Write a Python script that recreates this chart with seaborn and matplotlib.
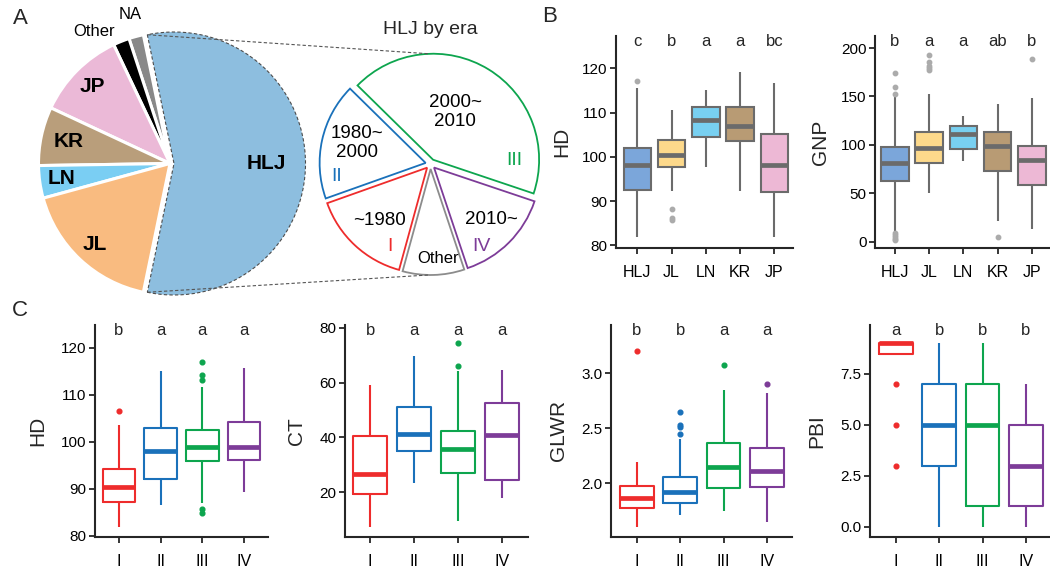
import numpy as np
import pandas as pd
import matplotlib
matplotlib.use("Agg")
import matplotlib.pyplot as plt
import seaborn as sns
from matplotlib.transforms import blended_transform_factory

# ------------------------------------------------------------------ data
# Panel A: composition by origin (%), counter-clockwise from HLJ
origin_names = ["HLJ", "NA", "Other", "JP", "KR", "LN", "JL"]
origin_share = [56.5, 1.8, 2.0, 11.0, 7.2, 4.0, 17.5]

# HLJ by era (%), counter-clockwise from era II
era_names = ["1980~\n2000", "~1980", "Other", "2010~", "2000~\n2010"]
era_codes = ["II", "I", "", "IV", "III"]
era_share = [17.8, 15.3, 9.4, 14.7, 42.8]

# Panel B: by origin
origins = ["HLJ", "JL", "LN", "KR", "JP"]
hd_o_lo = [82.0, 92.2, 97.8, 92.2, 81.9]
hd_o_q1 = [92.6, 97.8, 104.6, 103.5, 92.0]
hd_o_med = [98.2, 100.4, 108.3, 107.0, 98.2]
hd_o_q3 = [102.0, 103.8, 111.3, 111.3, 105.2]
hd_o_hi = [115.5, 110.6, 115.1, 119.1, 116.6]
hd_o_out = [[117.1], [88.2, 86.3, 85.8], [], [], []]
hd_o_letters = ["c", "b", "a", "a", "bc"]

gnp_lo = [11.0, 50.7, 83.0, 21.0, 12.8]
gnp_q1 = [62.8, 81.0, 95.8, 73.0, 58.3]
gnp_med = [81.6, 96.5, 110.8, 98.6, 84.4]
gnp_q3 = [98.0, 113.5, 119.0, 113.5, 99.3]
gnp_hi = [150.0, 152.8, 130.0, 142.0, 148.6]
gnp_out = [[153.0, 160.0, 174.0, 8.5, 6.5, 4.5, 3.0, 1.8],
           [177.0, 179.0, 182.0, 186.0, 193.0], [], [5.0], [189.0]]
gnp_letters = ["b", "a", "a", "ab", "b"]

# Panel C: HLJ by era
eras = ["I", "II", "III", "IV"]
hd_e_lo = [82.0, 86.6, 87.0, 89.4]
hd_e_q1 = [87.2, 92.2, 95.9, 96.1]
hd_e_med = [90.3, 98.1, 99.0, 99.0]
hd_e_q3 = [94.2, 102.9, 102.5, 104.2]
hd_e_hi = [103.6, 115.0, 111.6, 115.6]
hd_e_out = [[106.5], [], [117.0, 114.1, 113.1, 85.8, 84.9], []]
hd_e_letters = ["b", "a", "a", "a"]

ct_lo = [7.4, 23.3, 9.4, 17.8]
ct_q1 = [19.4, 34.9, 27.0, 24.5]
ct_med = [26.6, 41.1, 35.9, 40.8]
ct_q3 = [40.4, 50.9, 42.3, 52.4]
ct_hi = [59.2, 69.5, 64.1, 64.5]
ct_out = [[], [], [66.1, 74.5], []]
ct_letters = ["b", "a", "a", "a"]

glwr_lo = [1.605, 1.71, 1.75, 1.65]
glwr_q1 = [1.78, 1.82, 1.96, 1.97]
glwr_med = [1.87, 1.92, 2.15, 2.11]
glwr_q3 = [1.98, 2.06, 2.37, 2.32]
glwr_hi = [2.19, 2.40, 2.85, 2.82]
glwr_out = [[3.2], [2.45, 2.51, 2.53, 2.645], [3.076], [2.9]]
glwr_letters = ["b", "b", "a", "a"]

pbi_lo = [8.5, 0.0, 0.0, 0.0]
pbi_q1 = [8.5, 3.0, 1.0, 1.0]
pbi_med = [9.0, 5.0, 5.0, 3.0]
pbi_q3 = [9.0, 7.0, 7.0, 5.0]
pbi_hi = [9.0, 9.0, 9.0, 7.0]
pbi_out = [[7.0, 5.0, 3.0], [], [], []]
pbi_letters = ["a", "b", "b", "b"]

# ------------------------------------------------------------------ style
sns.set_style("ticks")
plt.rcParams["font.family"] = ["Liberation Sans", "DejaVu Sans"]
plt.rcParams["axes.linewidth"] = 1.5

W, H = 1050, 569
fig = plt.figure(figsize=(W / 100, H / 100), dpi=100)

pie_colors = ["#8DBEDF", "#888888", "#000000", "#EBB9D7", "#B99E7B", "#7ACEF3", "#F9BB80"]
box_colors = ["#7BA6DA", "#FDD98B", "#78D0F1", "#B89B74", "#EDB8D5"]
era_colors = {"I": "#EE2C2C", "II": "#1A71BA", "III": "#0DA54E", "IV": "#7D3C98"}
era_wedge_colors = [era_colors["II"], era_colors["I"], "#8C8C8C", era_colors["IV"], era_colors["III"]]


def build_frame(groups, lo, q1, med, q3, hi, outliers, k=20):
    rows = []
    for g, a, b, c, d, e, o in zip(groups, lo, q1, med, q3, hi, outliers):
        vals = [a] + [b] * k + [c] * k + [d] * k + [e] + list(o)
        rows += [(g, v) for v in vals]
    return pd.DataFrame(rows, columns=["group", "value"])


def px_axes(x0, y0, x1, y1):
    return fig.add_axes([x0 / W, 1 - y1 / H, (x1 - x0) / W, (y1 - y0) / H])


def finish(ax, ylabel, letters, xlim, ylim, yticks, fmt=None, labelpad=9):
    sns.despine(ax=ax)
    ax.spines["left"].set_linewidth(1.5)
    ax.spines["bottom"].set_linewidth(1.5)
    ax.set_xlim(*xlim)
    ax.set_ylim(*ylim)
    ax.set_yticks(yticks)
    if fmt:
        ax.set_yticklabels([fmt.format(t) for t in yticks])
    ax.tick_params(axis="both", length=4.5, width=1.1, labelsize=11, colors="black")
    ax.tick_params(axis="y", pad=1.5)
    ax.tick_params(axis="x", pad=8, labelsize=11.5)
    ax.set_xlabel("")
    ax.set_ylabel(ylabel, fontsize=15, labelpad=labelpad)
    tr = blended_transform_factory(ax.transData, ax.transAxes)
    for i, l in enumerate(letters):
        ax.text(i, 0.955, l, transform=tr, ha="center", va="baseline", fontsize=12)


def filled_box(ax, df, order):
    sns.boxplot(data=df, x="group", y="value", hue="group", order=order, hue_order=order,
                palette=box_colors, saturation=1, legend=False, width=0.8, linecolor="#6B6B6B",
                linewidth=1.5, showcaps=False, whis=1.5,
                medianprops=dict(linewidth=3.4), ax=ax)
    for ln in ax.lines:
        if ln.get_linestyle() in ("None", "") and ln.get_marker() not in ("None", "", None):
            ln.set_marker("o")
            ln.set_markerfacecolor("#ABABAB")
            ln.set_markeredgecolor("#ABABAB")
            ln.set_markersize(3.2)


def line_box(ax, df, order):
    sns.boxplot(data=df, x="group", y="value", hue="group", order=order, hue_order=order,
                palette=era_colors, saturation=1, legend=False, width=0.78, fill=False,
                linewidth=1.5, showcaps=False, whis=1.5,
                medianprops=dict(linewidth=3.4), ax=ax)
    for ln in ax.lines:
        if ln.get_linestyle() in ("None", "") and ln.get_marker() not in ("None", "", None):
            xs = ln.get_xdata()
            if len(xs) == 0:
                continue
            c = era_colors[order[int(round(float(xs[0])))]]
            ln.set_marker("o")
            ln.set_markerfacecolor(c)
            ln.set_markeredgecolor(c)
            ln.set_markersize(3.4)


# ------------------------------------------------------------------ panel A
axA = fig.add_axes([0, 1 - 300 / H, 530 / W, 300 / H])
PH = 300
wedges, _ = axA.pie(origin_share, colors=pie_colors, startangle=-101.7, counterclock=True,
                    radius=131.5, center=(170, PH - 163.5),
                    explode=[4, 0, 0, 0, 0, 0, 0],
                    wedgeprops=dict(edgecolor="white", linewidth=2.2))
wedges[0].set_edgecolor("#4D4D4D")
wedges[0].set_linewidth(0.8)
wedges[0].set_linestyle((0, (3, 2)))

lab_r = [0.70, 1.17, 1.09, 0.83, 0.79, 0.83, 0.84]
lab_dth = [0, 0, 1.0, 0, 0, 0, 0]
lab_ha = ["center", "center", "right", "center", "center", "center", "center"]
for w, name, rf, dth, ha in zip(wedges, origin_names, lab_r, lab_dth, lab_ha):
    th = np.deg2rad((w.theta1 + w.theta2) / 2 + dth)
    cx, cy = w.center
    bold = name not in ("NA", "Other")
    axA.text(cx + rf * w.r * np.cos(th), cy + rf * w.r * np.sin(th), name,
             ha=ha, va="center", fontsize=15 if bold else 12,
             fontweight="bold" if bold else "normal", color="black")

era_c = (430.5, PH - 164)
era_r = 106
wedges2, _ = axA.pie(era_share, colors=["white"] * 5, startangle=135.5, counterclock=True,
                     radius=era_r, center=era_c, explode=[5] * 5,
                     wedgeprops=dict(linewidth=1.3))
for w, c in zip(wedges2, era_wedge_colors):
    w.set_edgecolor(c)

name_pos = [(0.72, 164.3), (0.72, 227.6), (0.89, 274.4), (0.78, 317.5), (0.545, 64.9)]
code_pos = [(0.89, 187.7), (0.87, 243.9), None, (0.92, 301.8), (0.79, 2.3)]
for name, code, npos, cpos, c in zip(era_names, era_codes, name_pos, code_pos, era_wedge_colors):
    rf, ang = npos
    t = np.deg2rad(ang)
    axA.text(era_c[0] + rf * era_r * np.cos(t), era_c[1] + rf * era_r * np.sin(t), name,
             ha="center", va="center", fontsize=12 if name == "Other" else 13.5,
             linespacing=1.15, color="black")
    if cpos is not None:
        rf, ang = cpos
        t = np.deg2rad(ang)
        axA.text(era_c[0] + rf * era_r * np.cos(t), era_c[1] + rf * era_r * np.sin(t), code,
                 ha="center", va="center", fontsize=14, color=c)

# dashed connectors from the HLJ wedge to the era pie
hw = wedges[0]
for th, w2, sign in [(hw.theta2, wedges2[4], 1), (hw.theta1, wedges2[2], -1)]:
    t = np.deg2rad(th)
    x0 = hw.center[0] + hw.r * np.cos(t)
    y0 = hw.center[1] + hw.r * np.sin(t)
    x1 = era_c[0] - 2
    y1 = w2.center[1] + sign * era_r
    axA.plot([x0, x1], [y0, y1], color="#555555", lw=0.8, ls=(0, (3, 2)))

axA.text(era_c[0], PH - 30, "HLJ by era", ha="center", va="center", fontsize=14)
axA.set_xlim(0, 530)
axA.set_ylim(0, PH)
axA.set_aspect("equal", adjustable="box")
axA.axis("off")

# ------------------------------------------------------------------ panel B
axB1 = px_axes(616, 36, 793.3, 247.7)
filled_box(axB1, build_frame(origins, hd_o_lo, hd_o_q1, hd_o_med, hd_o_q3, hd_o_hi, hd_o_out), origins)
finish(axB1, "HD", hd_o_letters, (-0.62, 4.55), (79.5, 127.3), [80, 90, 100, 110, 120], labelpad=8)

axB2 = px_axes(875, 36, 1050, 247.7)
filled_box(axB2, build_frame(origins, gnp_lo, gnp_q1, gnp_med, gnp_q3, gnp_hi, gnp_out), origins)
finish(axB2, "GNP", gnp_letters, (-0.58, 4.53), (-6.3, 212.5), [0, 50, 100, 150, 200], labelpad=8)

# ------------------------------------------------------------------ panel C
axC1 = px_axes(95, 325, 268.3, 536.7)
line_box(axC1, build_frame(eras, hd_e_lo, hd_e_q1, hd_e_med, hd_e_q3, hd_e_hi, hd_e_out), eras)
finish(axC1, "HD", hd_e_letters, (-0.575, 3.58), (79.85, 124.8), [80, 90, 100, 110, 120], labelpad=10)

axC2 = px_axes(345, 325, 527.5, 536.7)
line_box(axC2, build_frame(eras, ct_lo, ct_q1, ct_med, ct_q3, ct_hi, ct_out), eras)
finish(axC2, "CT", ct_letters, (-0.57, 3.58), (3.7, 81.0), [20, 40, 60, 80], labelpad=10)

axC3 = px_axes(611, 325, 792, 536.7)
line_box(axC3, build_frame(eras, glwr_lo, glwr_q1, glwr_med, glwr_q3, glwr_hi, glwr_out), eras)
finish(axC3, "GLWR", glwr_letters, (-0.6, 3.58), (1.515, 3.44), [2.0, 2.5, 3.0], fmt="{:.1f}", labelpad=10)

axC4 = px_axes(870, 325, 1050, 536.7)
line_box(axC4, build_frame(eras, pbi_lo, pbi_q1, pbi_med, pbi_q3, pbi_hi, pbi_out), eras)
finish(axC4, "PBI", pbi_letters, (-0.6, 3.56), (-0.49, 9.9), [0.0, 2.5, 5.0, 7.5], fmt="{:.1f}", labelpad=10)

# panel letters
for lab, x, y in [("A", 20, 18), ("B", 550, 17), ("C", 20, 310)]:
    fig.text(x / W, 1 - y / H, lab, ha="center", va="center", fontsize=16)

fig.savefig("out.png", dpi=100)
